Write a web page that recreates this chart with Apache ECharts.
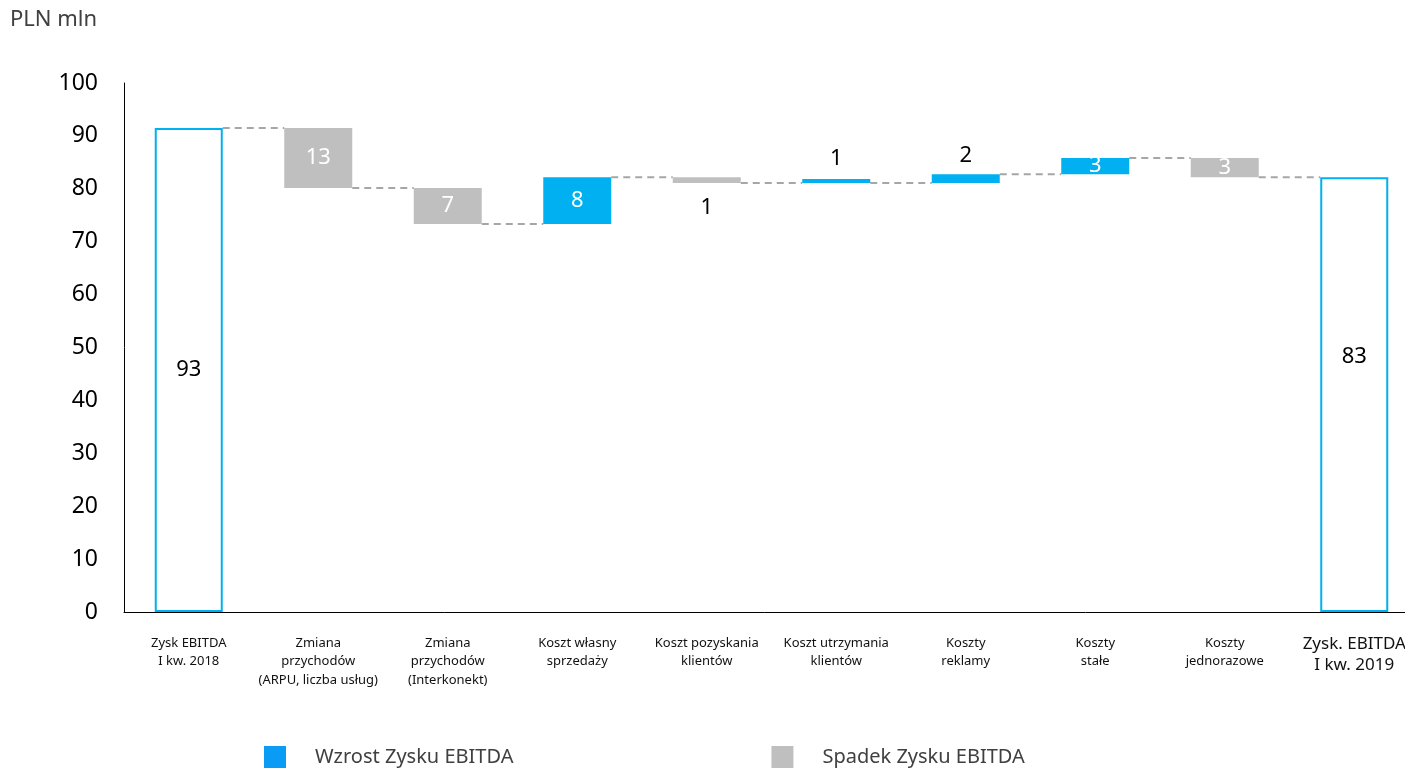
<!DOCTYPE html>
<html lang="pl">
<head>
    <meta charset="utf-8">
    <title>EBITDA bridge</title>
    <script src="https://cdn.jsdelivr.net/npm/echarts@6.0.0/dist/echarts.min.js"></script>
    <style>
        html, body { margin: 0; padding: 0; background: #fff; }
        #chart { width: 1405px; height: 771px; }
    </style>
</head>
<body>
    <div id="chart"></div>
    <script>
        // Data
        const categories = [
            'Zysk EBITDA\nI kw. 2018',
            'Zmiana\nprzychodów\n(ARPU, liczba usług)',
            'Zmiana\nprzychodów\n(Interkonekt)',
            'Koszt własny\nsprzedaży',
            'Koszt pozyskania\nklientów',
            'Koszt utrzymania\nklientów',
            'Koszty\nreklamy',
            'Koszty\nstałe',
            'Koszty\njednorazowe',
            'Zysk. EBITDA\nI kw. 2019'
        ];
        const valueLabels = ['93', '13', '7', '8', '1', '1', '2', '3', '3', '83'];
        const baseValues = [0, 80.15, 73.35, 73.35, 81.1, 81.1, 81.1, 82.75, 82.2, 0];
        const totalValues = [91.5, null, null, null, null, null, null, null, null, 82.2];
        const increaseValues = [null, null, null, 8.85, null, 0.75, 1.65, 3.05, null, null];
        const decreaseValues = [null, 11.35, 6.8, null, 1.1, null, null, null, 3.6, null];
        // level of dashed connector between bar i and bar i+1
        const connectorLevels = [91.5, 80.15, 73.35, 82.2, 81.1, 81.1, 82.75, 85.8, 82.2];

        const BLUE = '#00b0f0';
        const GREY = '#bfbfbf';
        const FONT = 'Noto Sans';
        const BAR_W = 68;

        // where each value label goes
        const labelPlacement = {
            0: { position: 'inside', color: '#000' },
            1: { position: 'inside', color: '#fff' },
            2: { position: 'inside', color: '#fff' },
            3: { position: 'inside', color: '#fff' },
            4: { position: 'bottom', color: '#000', distance: 14 },
            5: { position: 'top', color: '#000', distance: 9 },
            6: { position: 'top', color: '#000', distance: 8 },
            7: { position: 'inside', color: '#fff' },
            8: { position: 'inside', color: '#fff' },
            9: { position: 'inside', color: '#000', offset: [0, -38] }
        };

        function withLabels(values) {
            return values.map((v, i) => {
                if (v == null) return null;
                return {
                    value: v,
                    label: Object.assign({
                        show: true,
                        formatter: valueLabels[i],
                        fontSize: 22,
                        fontFamily: FONT
                    }, labelPlacement[i])
                };
            });
        }

        const chart = echarts.init(document.getElementById('chart'));

        chart.setOption({
            animation: false,
            title: {
                text: 'PLN mln',
                left: 5,
                top: 4,
                textStyle: { fontSize: 22, fontWeight: 'normal', color: '#404040', fontFamily: FONT }
            },
            legend: {
                data: [
                    { name: 'Wzrost Zysku EBITDA', itemStyle: { color: '#0a9cf5' } },
                    { name: 'Spadek Zysku EBITDA', itemStyle: { color: GREY } }
                ],
                left: 264,
                top: 746,
                padding: 0,
                icon: 'rect',
                itemWidth: 22,
                itemHeight: 22,
                itemGap: 258,
                textStyle: { fontSize: 20, color: '#404040', fontFamily: FONT, padding: [3, 0, 0, 24] }
            },
            grid: {
                left: 124,
                right: -14,
                top: 83,
                bottom: 159,
                outerBoundsMode: 'none'
            },
            xAxis: {
                type: 'category',
                data: categories.map((c, i) => i === categories.length - 1
                    ? { value: c, textStyle: { fontSize: 17, lineHeight: 21 } }
                    : c),
                axisLine: { lineStyle: { color: '#000', width: 1 } },
                axisTick: { show: false },
                axisLabel: {
                    interval: 0,
                    margin: 22,
                    fontSize: 13,
                    lineHeight: 18.5,
                    color: '#111',
                    fontFamily: FONT
                }
            },
            yAxis: {
                type: 'value',
                min: 0,
                max: 100,
                interval: 10,
                axisLine: { show: true, lineStyle: { color: '#000', width: 1 } },
                axisTick: { show: false },
                splitLine: { show: false },
                axisLabel: { fontSize: 23, color: '#000', margin: 26, fontFamily: FONT }
            },
            series: [
                {
                    name: 'base',
                    type: 'bar',
                    stack: 'w',
                    barWidth: BAR_W,
                    silent: true,
                    itemStyle: { color: 'transparent' },
                    data: baseValues
                },
                {
                    name: 'Zysk EBITDA',
                    type: 'bar',
                    stack: 'w',
                    barWidth: BAR_W,
                    itemStyle: { color: '#fff', borderColor: BLUE, borderWidth: 2 },
                    data: withLabels(totalValues)
                },
                {
                    name: 'Wzrost Zysku EBITDA',
                    type: 'bar',
                    stack: 'w',
                    barWidth: BAR_W,
                    itemStyle: { color: BLUE },
                    data: withLabels(increaseValues)
                },
                {
                    name: 'Spadek Zysku EBITDA',
                    type: 'bar',
                    stack: 'w',
                    barWidth: BAR_W,
                    itemStyle: { color: GREY },
                    data: withLabels(decreaseValues)
                },
                {
                    name: 'connectors',
                    type: 'custom',
                    silent: true,
                    z: 1,
                    data: connectorLevels.map((lv, i) => [i, lv]),
                    renderItem: function (params, api) {
                        const i = api.value(0);
                        const lv = api.value(1);
                        const a = api.coord([i, lv]);
                        const b = api.coord([i + 1, lv]);
                        return {
                            type: 'line',
                            shape: { x1: a[0] + BAR_W / 2, y1: a[1], x2: b[0] - BAR_W / 2, y2: b[1] },
                            style: { stroke: '#a6a6a6', lineWidth: 2, lineDash: [7, 5] }
                        };
                    }
                }
            ]
        });

        window.addEventListener('resize', () => chart.resize());
    </script>
</body>
</html>
